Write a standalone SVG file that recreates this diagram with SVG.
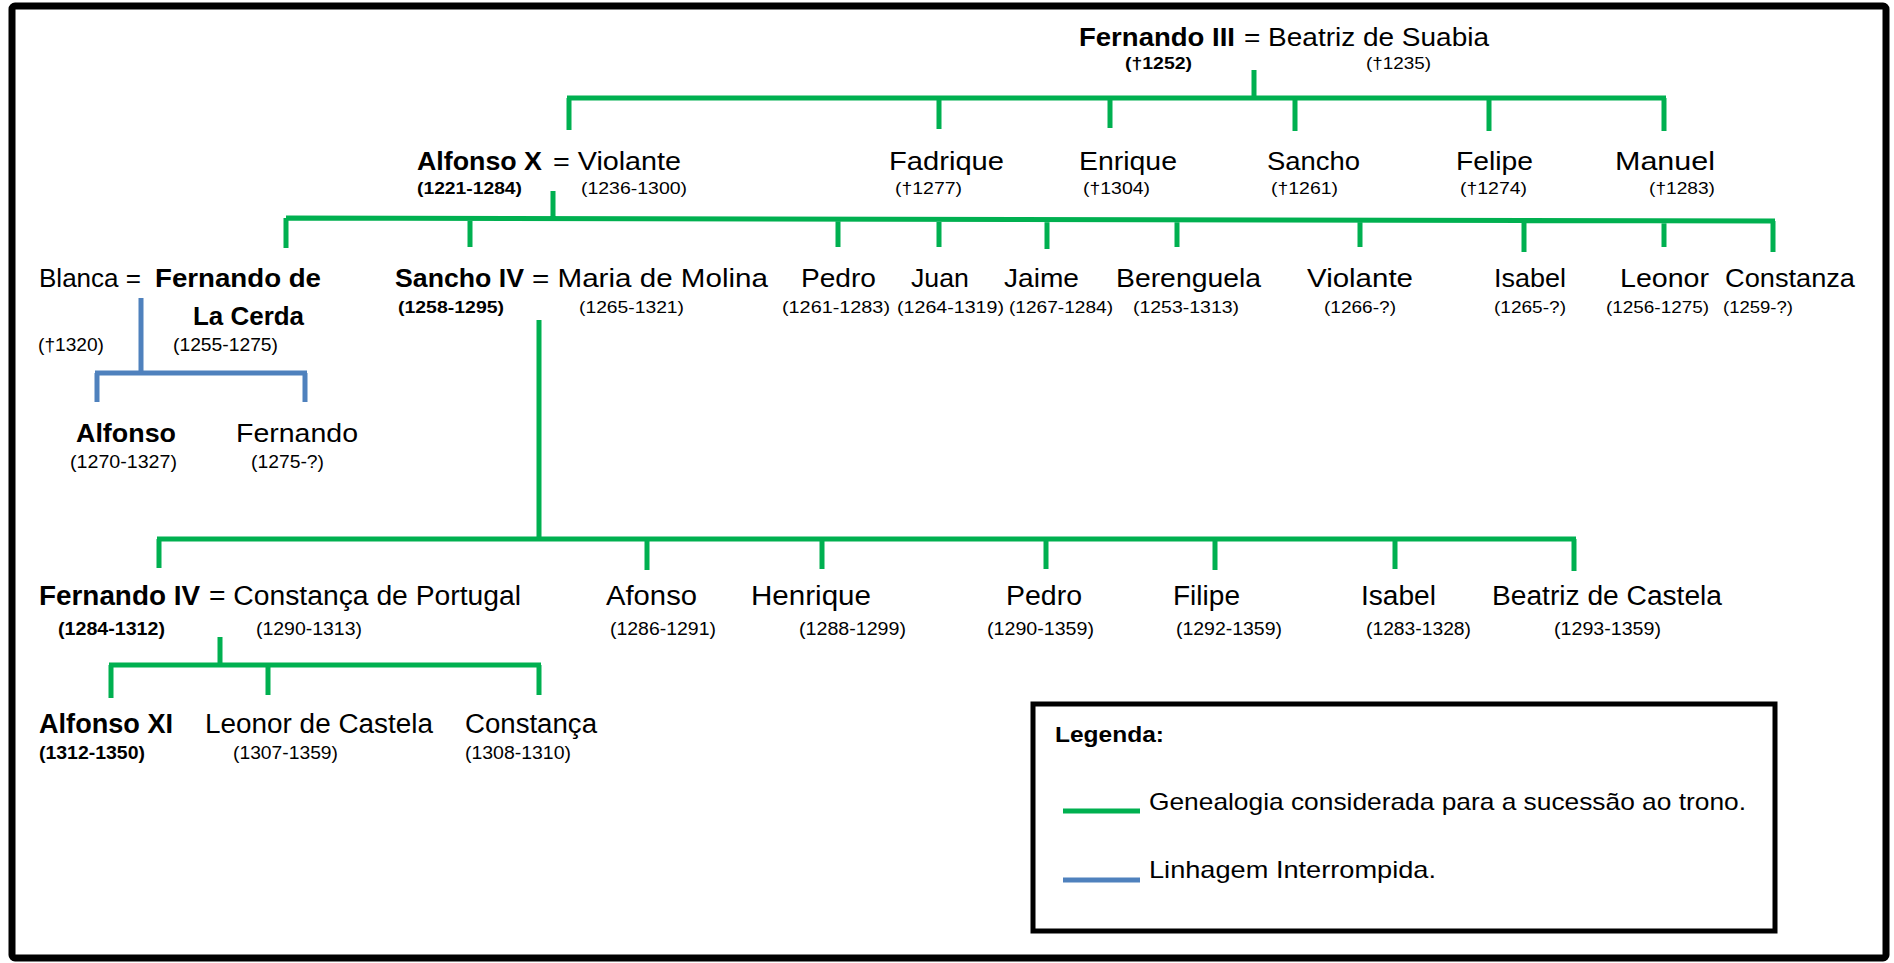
<svg xmlns="http://www.w3.org/2000/svg" width="1894" height="963" viewBox="0 0 1894 963">
<style>
text{font-family:"Liberation Sans",Arial,sans-serif;fill:#000}
.n{font-size:26px}
.n3{font-size:27px}
.b{font-weight:bold}
.y{font-size:17px}
.y2{font-size:18px}
.y3{font-size:19px}
.lg{font-size:24px}
.g{stroke:#00B050;stroke-width:5;fill:none;stroke-linecap:butt}
.bl{stroke:#4F81BD;stroke-width:5;fill:none}
</style>
<rect x="12" y="6" width="1874" height="952" rx="3" fill="#fff" stroke="#000" stroke-width="7"/>
<g id="connectors">
  <path class="g" d="M1254 70V98M567 98H1666M569 98V130M939 98V129M1110 98V128M1295 98V131M1489 98V131M1664 98V131"/>
  <path class="g" d="M553 191V219M286 218L1775 221M286 218V248M470 218V247M838 219V247M939 219V247M1047 219V249M1177 219V247M1360 220V247M1524 220V252M1664 221V247M1773 221V252"/>
  <path class="g" d="M539 320V539M157 539H1576M159 539V568M647 539V570M822 539V569M1046 539V569M1215 539V570M1395 539V569M1574 539V571"/>
  <path class="g" d="M220 637V665M109 665H541M111 665V698M268 665V695M539 665V695"/>
  <path class="bl" d="M141 298V373M95 373H307M97 373V402M305 373V402"/>
</g>
<g id="fernando3">
  <text class="n b" x="1079" y="46" textLength="156" lengthAdjust="spacingAndGlyphs">Fernando III</text>
  <text class="n" x="1244" y="46" textLength="245" lengthAdjust="spacingAndGlyphs">= Beatriz de Suabia</text>
  <text class="y b" x="1125" y="69" textLength="67" lengthAdjust="spacingAndGlyphs">(†1252)</text>
  <text class="y" x="1366" y="69" textLength="65" lengthAdjust="spacingAndGlyphs">(†1235)</text>
</g>
<g id="alfonso10">
  <text class="n b" x="417" y="170" textLength="125" lengthAdjust="spacingAndGlyphs">Alfonso X</text>
  <text class="n" x="553" y="170" textLength="128" lengthAdjust="spacingAndGlyphs">= Violante</text>
  <text class="y b" x="417" y="194" textLength="105" lengthAdjust="spacingAndGlyphs">(1221-1284)</text>
  <text class="y" x="581" y="194" textLength="106" lengthAdjust="spacingAndGlyphs">(1236-1300)</text>
</g>
<g id="fadrique">
  <text class="n" x="889" y="170" textLength="115" lengthAdjust="spacingAndGlyphs">Fadrique</text>
  <text class="y" x="895" y="194" textLength="67" lengthAdjust="spacingAndGlyphs">(†1277)</text>
</g>
<g id="enrique">
  <text class="n" x="1079" y="170" textLength="98" lengthAdjust="spacingAndGlyphs">Enrique</text>
  <text class="y" x="1083" y="194" textLength="67" lengthAdjust="spacingAndGlyphs">(†1304)</text>
</g>
<g id="sancho">
  <text class="n" x="1267" y="170" textLength="93" lengthAdjust="spacingAndGlyphs">Sancho</text>
  <text class="y" x="1271" y="194" textLength="67" lengthAdjust="spacingAndGlyphs">(†1261)</text>
</g>
<g id="felipe">
  <text class="n" x="1456" y="170" textLength="77" lengthAdjust="spacingAndGlyphs">Felipe</text>
  <text class="y" x="1460" y="194" textLength="67" lengthAdjust="spacingAndGlyphs">(†1274)</text>
</g>
<g id="manuel">
  <text class="n" x="1615" y="170" textLength="100" lengthAdjust="spacingAndGlyphs">Manuel</text>
  <text class="y" x="1649" y="194" textLength="66" lengthAdjust="spacingAndGlyphs">(†1283)</text>
</g>
<g id="fernando-la-cerda">
  <text class="n" x="39" y="287" textLength="102" lengthAdjust="spacingAndGlyphs">Blanca =</text>
  <text class="n b" x="155" y="287" textLength="166" lengthAdjust="spacingAndGlyphs">Fernando de</text>
  <text class="n b" x="193" y="325" textLength="111" lengthAdjust="spacingAndGlyphs">La Cerda</text>
  <text class="y3" x="38" y="351" textLength="66" lengthAdjust="spacingAndGlyphs">(†1320)</text>
  <text class="y3" x="173" y="351" textLength="105" lengthAdjust="spacingAndGlyphs">(1255-1275)</text>
</g>
<g id="alfonso-cerda">
  <text class="n b" x="76" y="442" textLength="100" lengthAdjust="spacingAndGlyphs">Alfonso</text>
  <text class="y2" x="70" y="468" textLength="107" lengthAdjust="spacingAndGlyphs">(1270-1327)</text>
</g>
<g id="fernando-cerda">
  <text class="n" x="236" y="442" textLength="122" lengthAdjust="spacingAndGlyphs">Fernando</text>
  <text class="y2" x="251" y="468" textLength="73" lengthAdjust="spacingAndGlyphs">(1275-?)</text>
</g>
<g id="sancho4">
  <text class="n b" x="395" y="287" textLength="129" lengthAdjust="spacingAndGlyphs">Sancho IV</text>
  <text class="n" x="532" y="287" textLength="236" lengthAdjust="spacingAndGlyphs">= Maria de Molina</text>
  <text class="y b" x="398" y="313" textLength="106" lengthAdjust="spacingAndGlyphs">(1258-1295)</text>
  <text class="y" x="579" y="313" textLength="105" lengthAdjust="spacingAndGlyphs">(1265-1321)</text>
</g>
<g id="pedro1">
  <text class="n" x="801" y="287" textLength="75" lengthAdjust="spacingAndGlyphs">Pedro</text>
  <text class="y" x="782" y="313" textLength="108" lengthAdjust="spacingAndGlyphs">(1261-1283)</text>
</g>
<g id="juan">
  <text class="n" x="911" y="287" textLength="58" lengthAdjust="spacingAndGlyphs">Juan</text>
  <text class="y" x="897" y="313" textLength="107" lengthAdjust="spacingAndGlyphs">(1264-1319)</text>
</g>
<g id="jaime">
  <text class="n" x="1004" y="287" textLength="75" lengthAdjust="spacingAndGlyphs">Jaime</text>
  <text class="y" x="1009" y="313" textLength="104" lengthAdjust="spacingAndGlyphs">(1267-1284)</text>
</g>
<g id="berenguela">
  <text class="n" x="1116" y="287" textLength="145" lengthAdjust="spacingAndGlyphs">Berenguela</text>
  <text class="y" x="1133" y="313" textLength="106" lengthAdjust="spacingAndGlyphs">(1253-1313)</text>
</g>
<g id="violante2">
  <text class="n" x="1307" y="287" textLength="106" lengthAdjust="spacingAndGlyphs">Violante</text>
  <text class="y" x="1324" y="313" textLength="72" lengthAdjust="spacingAndGlyphs">(1266-?)</text>
</g>
<g id="isabel1">
  <text class="n" x="1494" y="287" textLength="72" lengthAdjust="spacingAndGlyphs">Isabel</text>
  <text class="y" x="1494" y="313" textLength="72" lengthAdjust="spacingAndGlyphs">(1265-?)</text>
</g>
<g id="leonor1">
  <text class="n" x="1620" y="287" textLength="89" lengthAdjust="spacingAndGlyphs">Leonor</text>
  <text class="y" x="1606" y="313" textLength="103" lengthAdjust="spacingAndGlyphs">(1256-1275)</text>
</g>
<g id="constanza">
  <text class="n" x="1725" y="287" textLength="130" lengthAdjust="spacingAndGlyphs">Constanza</text>
  <text class="y" x="1723" y="313" textLength="70" lengthAdjust="spacingAndGlyphs">(1259-?)</text>
</g>
<g id="fernando4">
  <text class="n3 b" x="39" y="605" textLength="161" lengthAdjust="spacingAndGlyphs">Fernando IV</text>
  <text class="n3" x="209" y="605" textLength="312" lengthAdjust="spacingAndGlyphs">= Constança de Portugal</text>
  <text class="y2 b" x="58" y="635" textLength="107" lengthAdjust="spacingAndGlyphs">(1284-1312)</text>
  <text class="y2" x="256" y="635" textLength="106" lengthAdjust="spacingAndGlyphs">(1290-1313)</text>
</g>
<g id="afonso">
  <text class="n3" x="606" y="605" textLength="91" lengthAdjust="spacingAndGlyphs">Afonso</text>
  <text class="y2" x="610" y="635" textLength="106" lengthAdjust="spacingAndGlyphs">(1286-1291)</text>
</g>
<g id="henrique">
  <text class="n3" x="751" y="605" textLength="120" lengthAdjust="spacingAndGlyphs">Henrique</text>
  <text class="y2" x="799" y="635" textLength="107" lengthAdjust="spacingAndGlyphs">(1288-1299)</text>
</g>
<g id="pedro2">
  <text class="n3" x="1006" y="605" textLength="76" lengthAdjust="spacingAndGlyphs">Pedro</text>
  <text class="y2" x="987" y="635" textLength="107" lengthAdjust="spacingAndGlyphs">(1290-1359)</text>
</g>
<g id="filipe">
  <text class="n3" x="1173" y="605" textLength="67" lengthAdjust="spacingAndGlyphs">Filipe</text>
  <text class="y2" x="1176" y="635" textLength="106" lengthAdjust="spacingAndGlyphs">(1292-1359)</text>
</g>
<g id="isabel2">
  <text class="n3" x="1361" y="605" textLength="75" lengthAdjust="spacingAndGlyphs">Isabel</text>
  <text class="y2" x="1366" y="635" textLength="105" lengthAdjust="spacingAndGlyphs">(1283-1328)</text>
</g>
<g id="beatriz">
  <text class="n3" x="1492" y="605" textLength="230" lengthAdjust="spacingAndGlyphs">Beatriz de Castela</text>
  <text class="y2" x="1554" y="635" textLength="107" lengthAdjust="spacingAndGlyphs">(1293-1359)</text>
</g>
<g id="alfonso11">
  <text class="n3 b" x="39" y="733" textLength="134" lengthAdjust="spacingAndGlyphs">Alfonso XI</text>
  <text class="y2 b" x="39" y="759" textLength="106" lengthAdjust="spacingAndGlyphs">(1312-1350)</text>
</g>
<g id="leonor2">
  <text class="n3" x="205" y="733" textLength="228" lengthAdjust="spacingAndGlyphs">Leonor de Castela</text>
  <text class="y2" x="233" y="759" textLength="105" lengthAdjust="spacingAndGlyphs">(1307-1359)</text>
</g>
<g id="constanca">
  <text class="n3" x="465" y="733" textLength="132" lengthAdjust="spacingAndGlyphs">Constança</text>
  <text class="y2" x="465" y="759" textLength="106" lengthAdjust="spacingAndGlyphs">(1308-1310)</text>
</g>
<g id="legend">
  <rect x="1033" y="704" width="742" height="227" fill="#fff" stroke="#000" stroke-width="5"/>
  <text class="b" style="font-size:22px" x="1055" y="742" textLength="109" lengthAdjust="spacingAndGlyphs">Legenda:</text>
  <line class="g" x1="1063" y1="811" x2="1140" y2="811"/>
  <text class="lg" x="1149" y="810" textLength="597" lengthAdjust="spacingAndGlyphs">Genealogia considerada para a sucessão ao trono.</text>
  <line class="bl" x1="1063" y1="880" x2="1140" y2="880"/>
  <text class="lg" x="1149" y="878" textLength="287" lengthAdjust="spacingAndGlyphs">Linhagem Interrompida.</text>
</g>
</svg>
